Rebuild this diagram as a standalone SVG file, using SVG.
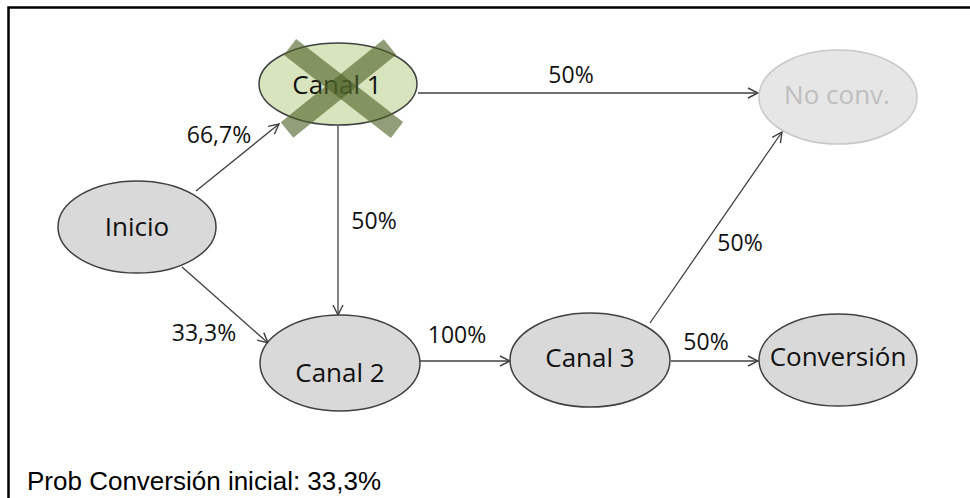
<svg xmlns="http://www.w3.org/2000/svg" width="970" height="498" viewBox="0 0 970 498">
  <defs>
    <marker id="arrow" viewBox="0 0 12 12" refX="11" refY="6" markerWidth="12" markerHeight="12" markerUnits="userSpaceOnUse" orient="auto">
      <path d="M1,1 L11,6 L1,11" fill="none" stroke="#404040" stroke-width="1.4"/>
    </marker>
    <style>
      .node { fill: #d9d9d9; stroke: #404040; stroke-width: 1.5; }
      .label { font-family: "Open Sans", "Liberation Sans", sans-serif; font-size: 26px; fill: #111; text-anchor: middle; }
      .pct { font-family: "Open Sans", "Liberation Sans", sans-serif; font-size: 23px; fill: #111; text-anchor: middle; }
      .edge { stroke: #404040; stroke-width: 1.3; fill: none; marker-end: url(#arrow); }
    </style>
  </defs>
  <rect width="970" height="498" fill="#ffffff"/>
  <!-- frame -->
  <path d="M8.5,498 V7.5 H970" fill="none" stroke="#000" stroke-width="2.5"/>

  <g id="connectors">
    <line class="edge" x1="196" y1="191" x2="279" y2="124"/>
    <line class="edge" x1="182" y1="267" x2="268" y2="343"/>
    <line class="edge" x1="338" y1="126" x2="338" y2="315"/>
    <line class="edge" x1="418" y1="93" x2="758" y2="93"/>
    <line class="edge" x1="420" y1="361" x2="510" y2="361"/>
    <line class="edge" x1="671" y1="361" x2="758" y2="361"/>
    <line class="edge" x1="650" y1="323" x2="782" y2="132"/>
    <text class="pct" x="219" y="143">66,7%</text>
    <text class="pct" x="204" y="341">33,3%</text>
    <text class="pct" x="374" y="229">50%</text>
    <text class="pct" x="571" y="83">50%</text>
    <text class="pct" x="457" y="343">100%</text>
    <text class="pct" x="740" y="251">50%</text>
    <text class="pct" x="706" y="350">50%</text>
  </g>

  <g id="inicio">
    <ellipse class="node" cx="137" cy="227" rx="79" ry="46"/>
    <text class="label" x="137" y="236">Inicio</text>
  </g>

  <g id="canal1">
    <ellipse class="node" cx="338" cy="84" rx="79" ry="41" style="fill:#d7e4bd"/>
    <text class="label" x="337" y="94">Canal 1</text>
    <g stroke="#4f6228" stroke-opacity="0.62" stroke-width="20">
      <line x1="290" y1="47" x2="397" y2="130"/>
      <line x1="390" y1="47" x2="287" y2="130"/>
    </g>
  </g>

  <g id="noconv">
    <ellipse cx="838" cy="97" rx="79" ry="47" fill="#e6e6e6" stroke="#c8c8c8" stroke-width="1.5"/>
    <text class="label" x="837" y="104" style="fill:#bfbfbf">No conv.</text>
  </g>

  <g id="canal2">
    <ellipse class="node" cx="340" cy="363" rx="80" ry="48"/>
    <text class="label" x="340" y="382">Canal 2</text>
  </g>

  <g id="canal3">
    <ellipse class="node" cx="590" cy="360" rx="80" ry="47"/>
    <text class="label" x="590" y="367">Canal 3</text>
  </g>

  <g id="conversion">
    <ellipse class="node" cx="838" cy="360" rx="79" ry="46"/>
    <text class="label" x="838" y="366">Conversión</text>
  </g>

  <text x="27" y="490" font-family="Liberation Sans, Arial, sans-serif" font-size="26" fill="#000">Prob Conversión inicial: 33,3%</text>
</svg>
